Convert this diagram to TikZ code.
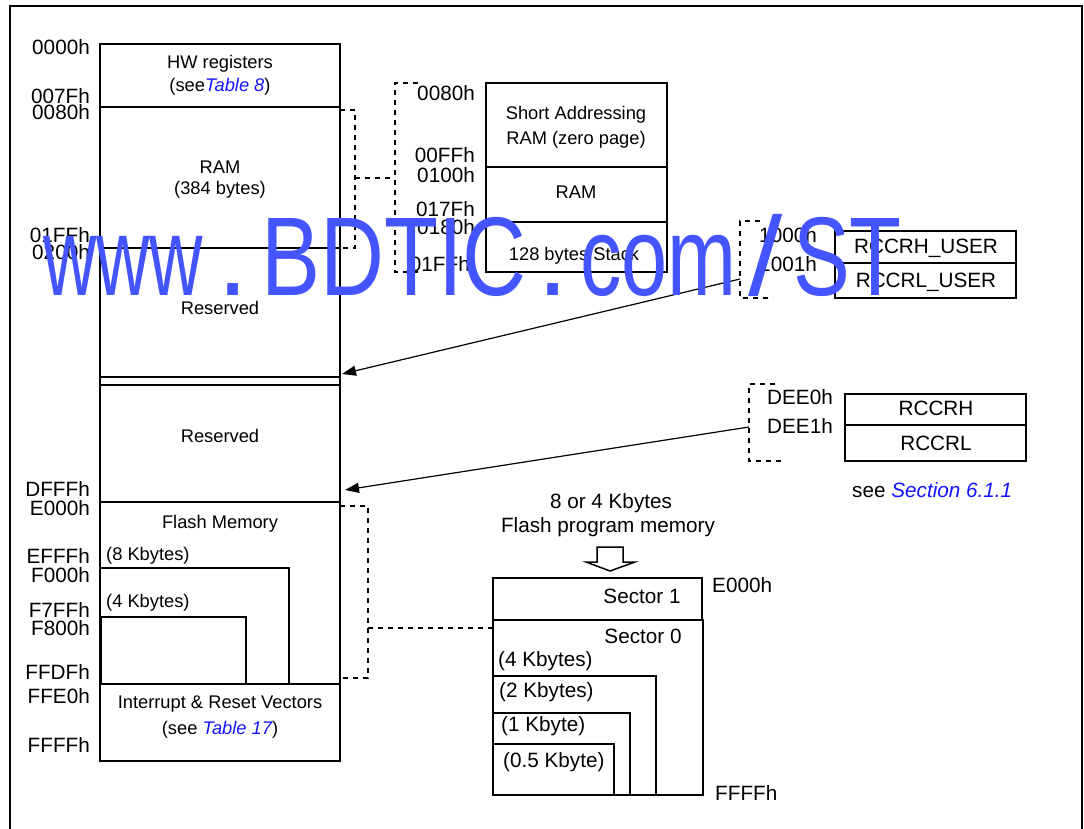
\documentclass[tikz,border=0pt]{standalone}
\usepackage{fontspec}
\setmainfont{Liberation Sans}
\usetikzlibrary{arrows.meta}
\definecolor{wm}{RGB}{68,85,255}
\definecolor{lnk}{RGB}{20,20,255}
\newcommand\boxfont{\fontsize{18.3}{20}\selectfont}
\newcommand\labfont{\fontsize{20.7}{23}\selectfont}
\tikzset{
  box/.style={line width=2pt},
  dashline/.style={line width=1.6pt, dash pattern=on 5pt off 5pt},
  lab/.style={font=\labfont, inner sep=0pt},
  btxt/.style={font=\boxfont, inner sep=0pt},
  arr/.style={line width=1.2pt, -{Triangle[length=14pt,width=10pt]}},
  wmark/.style={anchor=base west, inner sep=0pt, text=wm, font=\fontsize{112}{112}\selectfont},
}
\begin{document}
\begin{tikzpicture}[x=1pt,y=-1pt]
\useasboundingbox (0,0) rectangle (1084,829);
% outer frame
\draw[box] (10,829) -- (10,6) -- (1082,6) -- (1082,829);

% ---------- main memory column ----------
\draw[box] (100,44) rectangle (340,761);
\draw[box] (100,107) -- (340,107);
\draw[box] (100,248) -- (340,248);
\draw[box] (100,377) -- (340,377);
\draw[box] (100,385) -- (340,385);
\draw[box] (100,502) -- (340,502);
\draw[box] (100,684) -- (340,684);
\draw[box] (100,568) -- (289,568) -- (289,684);
\draw[box] (101,617) rectangle (246,684);

\node[btxt, anchor=base] (hw) at (220,69) {HW registers};
\node[btxt, anchor=base] (hw2) at (220,92) {(see\textcolor{lnk}{\itshape Table 8})};
\node[btxt, anchor=base] (ram) at (220,174) {RAM};
\node[btxt, anchor=base] (ram2) at (220,195) {(384 bytes)};
\node[btxt, anchor=base] (res1) at (220,314) {Reserved};
\node[btxt, anchor=base] (res2) at (220,442) {Reserved};
\node[btxt, anchor=base] (fm) at (220,528) {Flash Memory};
\node[btxt, anchor=base west] (k8) at (106,560) {(8 Kbytes)};
\node[btxt, anchor=base west] (k4) at (106,607) {(4 Kbytes)};
\node[btxt, anchor=base] (irv) at (220,708) {Interrupt \& Reset Vectors};
\node[btxt, anchor=base] (irv2) at (220,734) {(see \textcolor{lnk}{\itshape Table 17})};

\node[lab, anchor=base east] (a1) at (90,55) {0000h};
\node[lab, anchor=base east] (a2) at (90,104) {007Fh};
\node[lab, anchor=base east] (a3) at (90,120) {0080h};
\node[lab, anchor=base east] (a4) at (90,243) {01FFh};
\node[lab, anchor=base east] (a5) at (90,259) {0200h};
\node[lab, anchor=base east] (a6) at (90,496) {DFFFh};
\node[lab, anchor=base east] (a7) at (90,515) {E000h};
\node[lab, anchor=base east] (a8) at (90,563) {EFFFh};
\node[lab, anchor=base east] (a9) at (90,582) {F000h};
\node[lab, anchor=base east] (a10) at (90,617) {F7FFh};
\node[lab, anchor=base east] (a11) at (90,635) {F800h};
\node[lab, anchor=base east] (a12) at (90,679) {FFDFh};
\node[lab, anchor=base east] (a13) at (90,703) {FFE0h};
\node[lab, anchor=base east] (a14) at (90,752) {FFFFh};

% ---------- zero page detail ----------
\draw[box] (486,83) rectangle (667,272);
\draw[box] (486,167) -- (667,167);
\draw[box] (486,222) -- (667,222);
\node[btxt, anchor=base] (sa1) at (576,120) {Short Addressing};
\node[btxt, anchor=base] (sa2) at (576,145) {RAM (zero page)};
\node[btxt, anchor=base] (zram) at (576,199) {RAM};
\node[btxt, anchor=base] (stk) at (574,260) {128 bytes Stack};
\node[lab, anchor=base east] (z1) at (475,101) {0080h};
\node[lab, anchor=base east] (z2) at (475,163) {00FFh};
\node[lab, anchor=base east] (z3) at (475,183) {0100h};
\node[lab, anchor=base east] (z4) at (475,217) {017Fh};
\node[lab, anchor=base east] (z5) at (475,235) {0180h};
\node[lab, anchor=base east] (z6) at (470,271) {01FFh};
\draw[dashline] (340,110) -- (355,110) -- (355,248) -- (340,248);
\draw[dashline] (355,178) -- (395,178);
\draw[dashline] (418,83) -- (395,83) -- (395,272) -- (418,272);

% ---------- RCCR user ----------
\draw[box] (835,231) rectangle (1016,298);
\draw[box] (835,263) -- (1016,263);
\node[lab, anchor=base] (ru1) at (926,253) {RCCRH\_USER};
\node[lab, anchor=base] (ru2) at (926,287) {RCCRL\_USER};
\node[lab, anchor=base east] (u1) at (817,243) {1000h};
\node[lab, anchor=base east] (u2) at (817,271) {1001h};
\draw[dashline] (760,221) -- (740,221) -- (740,298) -- (773,298);
\coordinate (ustart) at (740,279);
\coordinate (uend) at (342,374);
\draw[arr] (ustart) -- (uend);

% ---------- RCCR ----------
\draw[box] (845,394) rectangle (1026,461);
\draw[box] (845,425) -- (1026,425);
\node[lab, anchor=base] (r1) at (936,415) {RCCRH};
\node[lab, anchor=base] (r2) at (936,450) {RCCRL};
\node[lab, anchor=base west] (d1) at (767,404) {DEE0h};
\node[lab, anchor=base west] (d2) at (767,433) {DEE1h};
\node[lab, anchor=base west] (sec) at (852,497) {see \textcolor{lnk}{\itshape Section 6.1.1}};
\draw[dashline] (775,384) -- (749,384) -- (749,461) -- (785,461);
\coordinate (dstart) at (749,427);
\coordinate (dend) at (345,490);
\draw[arr] (dstart) -- (dend);

% ---------- flash program memory ----------
\draw[dashline] (340,506) -- (368,506) -- (368,678) -- (340,678);
\draw[dashline] (368,628) -- (493,628);
\node[lab, anchor=base] (fp1) at (611,508) {8 or 4 Kbytes};
\node[lab, anchor=base] (fp2) at (608,532) {Flash program memory};
\draw[line width=1.5pt, fill=white] (597,547) -- (623,547) -- (623,562) -- (635,562) -- (610,571) -- (586,562) -- (597,562) -- cycle;
\draw[box] (493,578) rectangle (702,620);
\draw[box] (493,620) rectangle (703,795);
\draw[box] (493,676) -| (656,795);
\draw[box] (493,713) -| (630,795);
\draw[box] (493,744) rectangle (614,795);
\node[lab, anchor=base] (s1) at (642,603) {Sector 1};
\node[lab, anchor=base] (s0) at (643,643) {Sector 0};
\node[lab, anchor=base west] (e0) at (712,592) {E000h};
\node[lab, anchor=base west] (ff) at (715,800) {FFFFh};
\node[lab, anchor=base west] (b4) at (498,666) {(4 Kbytes)};
\node[lab, anchor=base west] (b2) at (499,697) {(2 Kbytes)};
\node[lab, anchor=base west] (b1) at (501,731) {(1 Kbyte)};
\node[lab, anchor=base west] (b05) at (503,767) {(0.5 Kbyte)};

% ---------- watermark ----------
\node[wmark, xscale=0.66] (wm1) at (43,295) {www};
\node[wmark] (wm2) at (217,295) {.};
\node[wmark, xscale=0.79] (wm3) at (261,295) {BDTIC};
\node[wmark] (wm4) at (537,295) {.};
\node[wmark, xscale=0.74] (wm5) at (580,295) {com};
\node[wmark, xscale=1.1] (wm6) at (748,295) {/};
\node[wmark, xscale=0.76] (wm7) at (793,295) {ST};
\end{tikzpicture}
\end{document}
